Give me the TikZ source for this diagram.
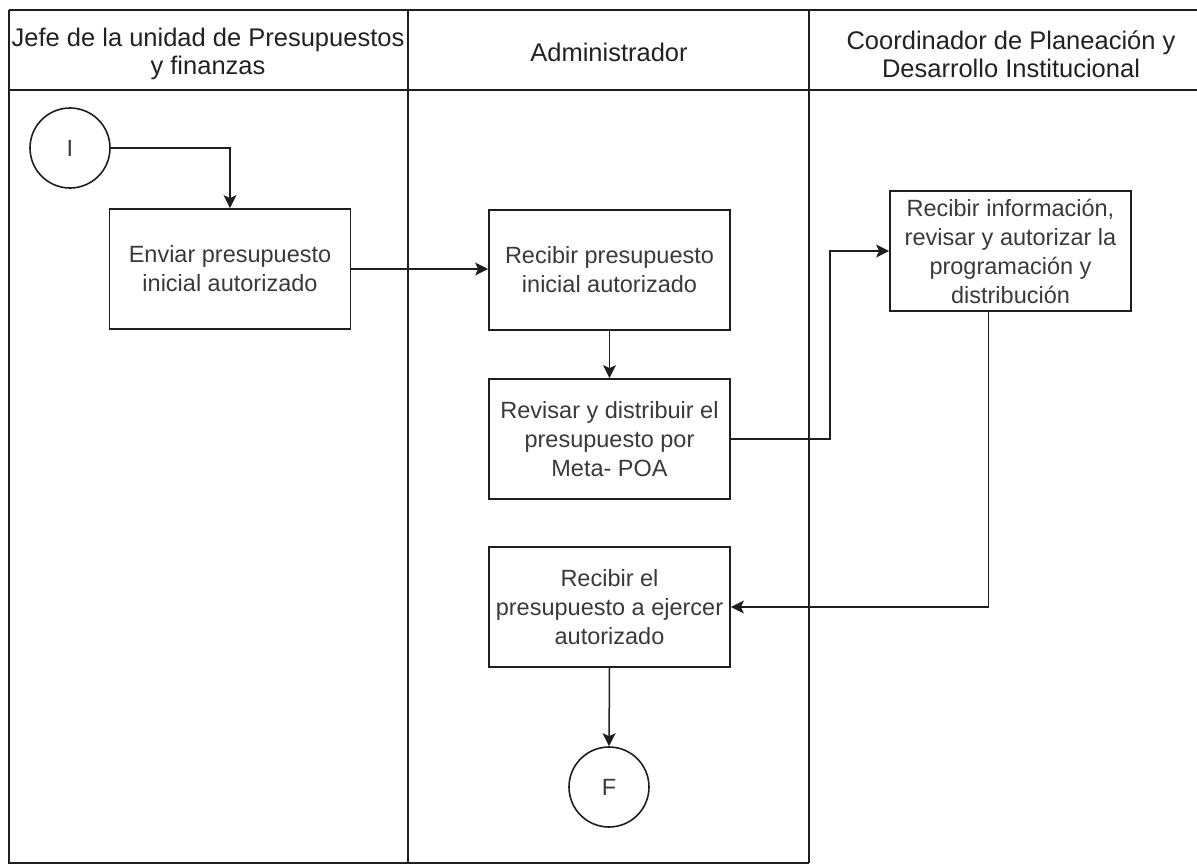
\documentclass[tikz,border=0pt]{standalone}
\usepackage{fontspec}
\setmainfont{Liberation Sans}
\usetikzlibrary{arrows.meta,calc}
\definecolor{ln}{HTML}{1E1E1E}
\definecolor{tx}{HTML}{3A3A3A}
\definecolor{hd}{HTML}{222222}
\tikzset{
  frame/.style={draw=ln, line width=1.6pt},
  head/.style={text=hd, align=center, font=\fontsize{25.5}{28}\selectfont},
  proc/.style={draw=ln, line width=1.8pt, rectangle, minimum width=241pt, minimum height=120pt, inner sep=2pt, align=center, text=tx, font=\fontsize{23.5}{29}\selectfont},
  term/.style={draw=ln, line width=1.6pt, circle, minimum size=80pt, inner sep=0pt, text=tx, font=\fontsize{23.5}{29}\selectfont},
  flow/.style={draw=ln, line width=1.5pt, -{Stealth[length=13pt,width=13pt,inset=3pt]}},
  flowplain/.style={draw=ln, line width=1.5pt}
}
\begin{document}
\begin{tikzpicture}[x=1pt,y=-1pt]
\useasboundingbox[fill=white] (0,0) rectangle (1197,865);
% swimlane frame
\draw[frame] (9,10) -- (1197,10);
\draw[frame] (9,90) -- (1197,90);
\draw[frame] (9,10) -- (9,863) -- (809,863);
\draw[frame] (408,10) -- (408,863);
\draw[frame] (809,10) -- (809,863);
% headers
\node[head] (h1) at (208,54) {Jefe de la unidad de Presupuestos\\y finanzas};
\node[head] (h2) at (609,52) {Administrador};
\node[head] (h3) at (1011,54) {Coordinador de Planeación y\\Desarrollo Institucional};
% nodes
\node[term] (I) at (70,148) {I};
\node[proc] (b1) at (230,269) {Enviar presupuesto\\inicial autorizado};
\node[proc] (b2) at (609.5,270) {Recibir presupuesto\\inicial autorizado};
\node[proc] (b3) at (609.5,439) {Revisar y distribuir el\\presupuesto por\\Meta- POA};
\node[proc] (b4) at (1010.5,251) {Recibir información,\\revisar y autorizar la\\programación y\\distribución};
\node[proc] (b5) at (609.5,607) {Recibir el\\presupuesto a ejercer\\autorizado};
\node[term] (F) at (609,787) {F};
% bend points
\coordinate (k1) at (830,438);
\coordinate (k2) at ($(b4.south west)!0.41!(b4.south east)$);
% connectors
\draw[flow] (I.east) -| (b1.north);
\draw[flow] (b1.east) -- (b1.east -| b2.west);
\draw[flow] (b2.south) -- (b3.north);
\draw[flow] (b3.east) -- (b3.east -| k1) |- (b4.west);
\draw[flow] (k2) |- (b5.east);
\draw[flow] (b5.south) -- (F.north);
\end{tikzpicture}
\end{document}
